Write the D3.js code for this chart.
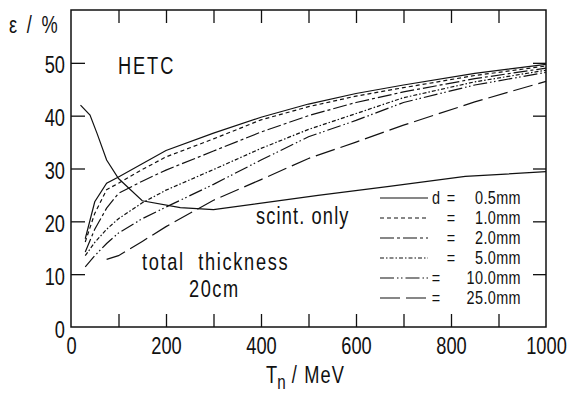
<!DOCTYPE html>
<html>
<head>
<meta charset="utf-8">
<script src="https://cdn.jsdelivr.net/npm/d3@7"></script>
<style>
  body { margin: 0; background: #fff; }
  svg text { font-family: "Liberation Sans", Arial, sans-serif; fill: #111; }
  .axis path { display: none; }
  .axis line { stroke: #111; stroke-width: 1.3; }
  .curve { fill: none; stroke: #111; stroke-width: 1.2; }
</style>
</head>
<body>
<div id="chart"></div>
<script>
// Data (efficiency in %, neutron energy in MeV)
const scintEnergy = [20, 40, 55, 75, 100, 150, 230, 300, 420, 520, 670, 830, 1000];
const scintEff = [42.0, 40.1, 36.6, 31.6, 28.1, 23.9, 22.6, 22.2, 23.7, 24.9, 26.6, 28.5, 29.4];

const dEnergy = [30, 50, 75, 100, 150, 200, 300, 400, 500, 600, 700, 850, 1000];
const eff05 = [16.7, 23.7, 27.2, 28.4, 30.9, 33.4, 36.7, 39.7, 42.2, 44.2, 45.8, 48.0, 49.7];
const eff10 = [16.1, 21.5, 26.0, 27.2, 29.8, 32.2, 35.6, 39.2, 41.7, 43.7, 45.3, 47.6, 49.4];
const eff20 = [14.2, 18.5, 22.5, 25.3, 27.6, 29.7, 33.3, 36.9, 40.0, 42.5, 44.5, 47.0, 49.0];
const eff50 = [13.5, 16.0, 18.5, 20.5, 23.5, 25.9, 29.8, 33.8, 37.4, 40.4, 43.4, 46.4, 48.6];
const eff100 = [11.4, 13.5, 15.8, 17.8, 20.5, 22.7, 27.0, 31.6, 36.0, 39.1, 42.5, 45.8, 48.2];
const eff250 = [null, null, 12.8, 13.5, 16.2, 19.0, 24.0, 27.9, 31.9, 35.0, 38.2, 42.6, 46.5];

const seriesValues = [eff05, eff10, eff20, eff50, eff100, eff250];
const seriesLabels = ["0.5mm", "1.0mm", "2.0mm", "5.0mm", "10.0mm", "25.0mm"];

const xTickLabels = [0, 200, 400, 600, 800, 1000];
const xMinorTicks = [100, 200, 300, 400, 500, 600, 700, 800, 900];
const yTickLabels = [0, 10, 20, 30, 40, 50];
const yMinorTicks = [10, 20, 30, 40, 50];

// dash styles for the six thicknesses
const dashes = ["none", "4,3", "14,3,3,3", "4,2,1.5,2", "14,3,1.5,2.5,1.5,3", "20,6"];

const width = 570, height = 396;
const margin = { top: 10, left: 71, right: 24, bottom: 69 };
const chartWidth = width - margin.left - margin.right;
const chartHeight = height - margin.top - margin.bottom;
const squeeze = 0.76; // narrow lettering of the original

let xPositionScale = d3.scaleLinear().domain([0, 1000]).range([0, chartWidth]);
let yPositionScale = d3.scaleLinear().domain([0, 60]).range([chartHeight, 0]);

let svg = d3.select("#chart").append("svg")
  .attr("width", width)
  .attr("height", height);

let chart = svg.append("g")
  .attr("transform", "translate(" + margin.left + "," + margin.top + ")");

// narrow text helper
function label(parent, x, y, str, size, anchor) {
  return parent.append("text")
    .attr("transform", "translate(" + x + "," + y + ") scale(" + squeeze + ",1)")
    .attr("text-anchor", anchor || "start")
    .attr("font-size", size)
    .style("white-space", "pre")
    .text(str);
}

// frame
chart.append("rect")
  .attr("width", chartWidth)
  .attr("height", chartHeight)
  .attr("fill", "none")
  .attr("stroke", "#111")
  .attr("stroke-width", 1.5);

// inward ticks on all four sides
chart.append("g").attr("class", "axis")
  .attr("transform", "translate(0," + chartHeight + ")")
  .call(d3.axisBottom(xPositionScale).tickValues(xMinorTicks).tickSize(-13).tickFormat(""));
chart.append("g").attr("class", "axis")
  .call(d3.axisTop(xPositionScale).tickValues(xMinorTicks).tickSize(-13).tickFormat(""));
chart.append("g").attr("class", "axis")
  .call(d3.axisLeft(yPositionScale).tickValues(yMinorTicks).tickSize(-14).tickFormat(""));
chart.append("g").attr("class", "axis")
  .attr("transform", "translate(" + chartWidth + ",0)")
  .call(d3.axisRight(yPositionScale).tickValues(yMinorTicks).tickSize(-13).tickFormat(""));

// tick labels
let xLabels = chart.append("g").attr("class", "axis")
  .attr("transform", "translate(0," + chartHeight + ")")
  .call(d3.axisBottom(xPositionScale).tickValues(xTickLabels).tickSize(0).tickPadding(10).tickFormat(d3.format("d")));
xLabels.selectAll("text")
  .attr("font-size", 24).attr("fill", "#111")
  .attr("font-family", "Liberation Sans, Arial, sans-serif")
  .attr("transform", "scale(" + squeeze + ",1)");

let yLabels = chart.append("g").attr("class", "axis")
  .call(d3.axisLeft(yPositionScale).tickValues(yTickLabels).tickSize(0).tickPadding(8));
yLabels.selectAll("text")
  .attr("font-size", 24).attr("fill", "#111").attr("dy", "0.42em")
  .attr("font-family", "Liberation Sans, Arial, sans-serif")
  .attr("transform", "scale(" + squeeze + ",1)");

// curves
let dLine = d3.line()
  .defined(d => d[1] != null)
  .x(d => xPositionScale(d[0]))
  .y(d => yPositionScale(d[1]));

seriesValues.forEach((vals, i) => {
  chart.append("path")
    .attr("class", "curve")
    .attr("stroke-dasharray", dashes[i])
    .attr("d", dLine(dEnergy.map((t, j) => [t, vals[j]])));
});

chart.append("path")
  .attr("class", "curve")
  .attr("stroke-width", 2)
  .attr("d", dLine(scintEnergy.map((t, j) => [t, scintEff[j]])));

// legend
let legend = svg.append("g").attr("transform", "translate(380,198)");
seriesLabels.forEach((lab, i) => {
  let row = legend.append("g").attr("transform", "translate(0," + (i * 20) + ")");
  row.append("line")
    .attr("class", "curve")
    .attr("x1", 0).attr("x2", 48)
    .attr("stroke-dasharray", dashes[i]);
  label(row, 141, 6, lab, 19, "end").attr("letter-spacing", 0.5);
  label(row, lab.length > 5 ? 56 : 71, 6, "=", 19, "middle");
  if (i === 0) label(row, 56, 6, "d", 19, "middle");
});

// annotations
label(svg, 118, 74, "HETC", 24).attr("letter-spacing", 2.5);
label(svg, 256, 224, "scint. only", 24).attr("letter-spacing", 1.5);
label(svg, 142, 270, "total  thickness", 24).attr("letter-spacing", 2.2);
label(svg, 189, 297, "20cm", 24).attr("letter-spacing", 2);

// axis titles
label(svg, 9, 33, "ε / %", 24).attr("letter-spacing", 3);
let xTitle = label(svg, 266, 383, "", 24);
xTitle.append("tspan").text("T");
xTitle.append("tspan").attr("dy", 6).attr("font-size", 20).text("n");
xTitle.append("tspan").attr("dy", -6).attr("letter-spacing", 1.5).text(" / MeV");
</script>
</body>
</html>
